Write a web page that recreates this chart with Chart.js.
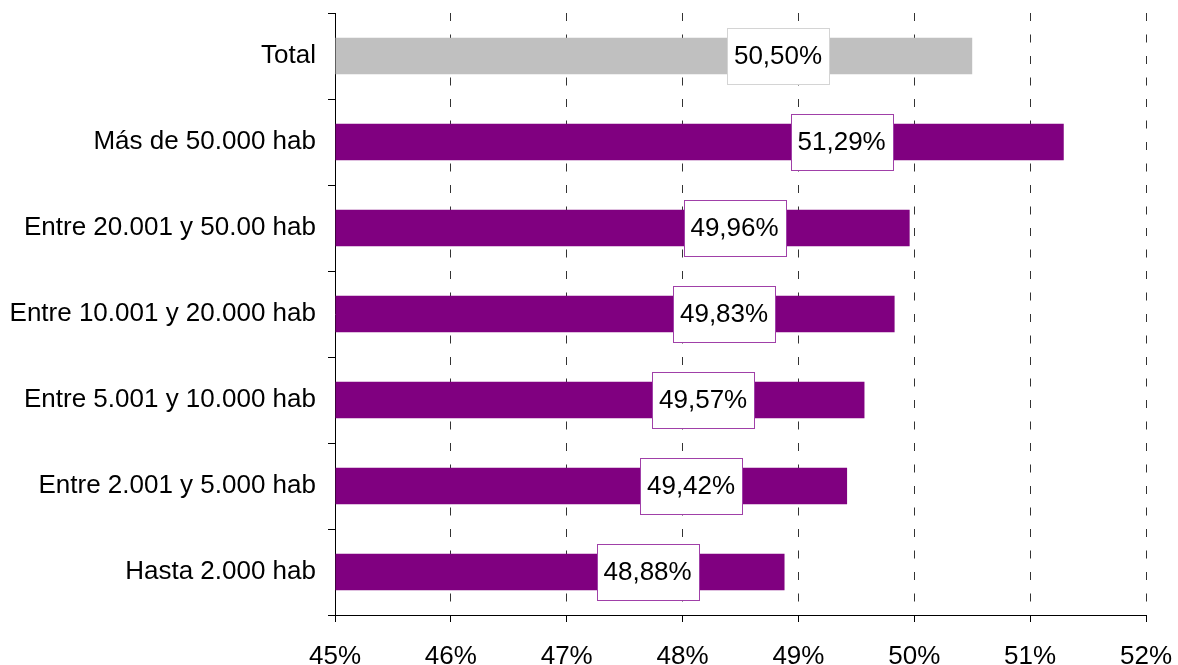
<!DOCTYPE html>
<html>
<head>
<meta charset="utf-8">
<script src="https://cdn.jsdelivr.net/npm/chart.js@4/dist/chart.umd.min.js"></script>
<style>
  html, body { margin: 0; padding: 0; background: #fff; }
  #wrap { width: 1178px; height: 665px; position: relative; }
</style>
</head>
<body>
<div id="wrap"><canvas id="c" width="1178" height="665"></canvas></div>
<script>
const categories = [
  'Total',
  'Más de 50.000 hab',
  'Entre 20.001 y 50.00 hab',
  'Entre 10.001 y 20.000 hab',
  'Entre 5.001 y 10.000 hab',
  'Entre 2.001 y 5.000 hab',
  'Hasta 2.000 hab'
];
const values = [50.50, 51.29, 49.96, 49.83, 49.57, 49.42, 48.88];
const valueLabels = ['50,50%', '51,29%', '49,96%', '49,83%', '49,57%', '49,42%', '48,88%'];
const xMin = 45, xMax = 52;

const FONT = '"Liberation Sans", Arial, sans-serif';
const barColors = values.map((v, i) => i === 0 ? '#C0C0C0' : '#800080');
const boxBorders = values.map((v, i) => i === 0 ? '#D4D4D4' : '#A040A8');

const labelPlugin = {
  id: 'boxLabels',
  afterDatasetsDraw(chart) {
    const ctx = chart.ctx;
    const meta = chart.getDatasetMeta(0);
    ctx.save();
    ctx.font = '26px ' + FONT;
    ctx.textAlign = 'center';
    ctx.textBaseline = 'middle';
    meta.data.forEach((bar, i) => {
      const p = bar.getProps(['x', 'y', 'base'], true);
      const cx = p.base + 0.695 * (p.x - p.base);
      const tw = ctx.measureText(valueLabels[i]).width;
      const w = Math.round(tw + 14), h = 56;
      const left = Math.round(cx - w / 2) + 0.5;
      const top = Math.round(p.y - h / 2) + 0.5;
      ctx.fillStyle = '#fff';
      ctx.fillRect(left, top, w, h);
      ctx.strokeStyle = boxBorders[i];
      ctx.lineWidth = 1;
      ctx.strokeRect(left, top, w, h);
      ctx.fillStyle = '#000';
      ctx.fillText(valueLabels[i], cx, p.y + 1);
    });
    ctx.restore();
  }
};

new Chart(document.getElementById('c'), {
  type: 'bar',
  data: {
    labels: categories,
    datasets: [{
      data: values,
      backgroundColor: barColors,
      borderWidth: 0,
      categoryPercentage: 1,
      barPercentage: 0.425,
      base: xMin
    }]
  },
  options: {
    indexAxis: 'y',
    responsive: false,
    animation: false,
    devicePixelRatio: 1,
    layout: { padding: { left: 0, top: 13, right: 32, bottom: 0 } },
    plugins: { legend: { display: false }, tooltip: { enabled: false } },
    scales: {
      x: {
        type: 'linear',
        min: xMin,
        max: xMax,
        afterFit(s) { s.height = 50; s.paddingLeft = 0; s.paddingRight = 0; },
        ticks: {
          stepSize: 1,
          color: '#000',
          font: { family: FONT, size: 26 },
          padding: 19,
          callback: v => v + '%'
        },
        grid: {
          color: ctx => (ctx.tick && ctx.tick.value === xMin) ? 'rgba(0,0,0,0)' : '#333',
          tickColor: '#000',
          lineWidth: 1,
          tickLength: 7,
          drawTicks: true
        },
        border: { display: true, color: '#000', width: 1, dash: [8, 13.5] }
      },
      y: {
        type: 'category',
        afterFit(s) { s.width = 335; s.paddingTop = 0; s.paddingBottom = 0; },
        ticks: {
          color: '#000',
          font: { family: FONT, size: 26 },
          padding: 12
        },
        grid: {
          offset: true,
          drawOnChartArea: false,
          drawTicks: true,
          tickLength: 7,
          color: '#000',
          tickColor: '#000'
        },
        border: { display: true, color: '#000', width: 1 }
      }
    }
  },
  plugins: [labelPlugin]
});
</script>
</body>
</html>
